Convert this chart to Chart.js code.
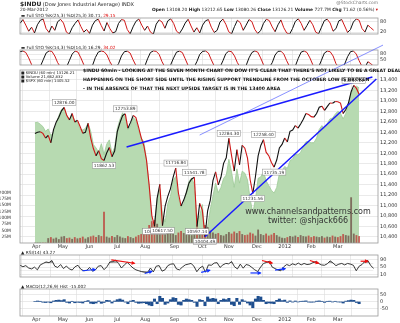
<!DOCTYPE html>
<html>
<head>
<meta charset="utf-8">
<script src="https://cdn.jsdelivr.net/npm/chart.js@4.4.1/dist/chart.umd.min.js"></script>
<style>
  body { margin: 0; width: 400px; height: 323px; background: #fff; position: relative; overflow: hidden; font-family: "DejaVu Sans", sans-serif; }
  canvas { position: absolute; left: 0; }
  .t { position: absolute; white-space: nowrap; color: #222; line-height: 1; }
  .note { position: absolute; left: 83px; font: bold 4.6px "DejaVu Sans", sans-serif; color: #111; white-space: nowrap; }
  .mark { position: absolute; font: 8px "DejaVu Sans", sans-serif; color: #333; white-space: nowrap; text-align: center; width: 140px; left: 238px; }
</style>
</head>
<body>
<canvas id="stochA" width="400" height="26" style="top:13px"></canvas>
<canvas id="stochB" width="400" height="25" style="top:45px"></canvas>
<canvas id="rsi" width="400" height="32" style="top:250px"></canvas>
<canvas id="macd" width="400" height="39" style="top:284px"></canvas>
<!-- the price panel sits above the stochastics so its fan line can run up across them -->
<canvas id="main" width="400" height="250" style="top:0px"></canvas>

<div class="t" style="left:20px;top:1px;font-size:5px"><b style="font-size:6px">$INDU</b> (Dow Jones Industrial Average) INDX</div>
<div class="t" style="left:20px;top:8px;font-size:4.4px">20-Mar-2012</div>
<div class="t" style="right:22px;top:1px;font-size:4.4px;color:#777">@StockCharts.com</div>
<div class="t" style="right:22px;top:8px;font-size:4.4px"><b>Open</b> 13108.20 <b>High</b> 13212.65 <b>Low</b> 13080.26 <b>Close</b> 13126.21 <b>Volume</b> 727.7M <b>Chg</b> 71.62 (0.56%) <span style="color:#c00">&#9662;</span></div>
<div class="t" style="left:21px;top:14px;font-size:4.3px">&#9644; Full STO %K(25,3) %D(25,3) 30.71, <span style="color:#d00">29.15</span></div>
<div class="t" style="left:21px;top:46px;font-size:4.3px">&#9644; Full STO %K(14,3) %D(14,3) 16.29, <span style="color:#d00">34.02</span></div>
<div class="t" style="left:21px;top:71px;font-size:3.8px">&#9632; $INDU (60 min) 13126.21<br>&#9632; Volume 21,662,832<br>&#9632; $SPX (60 min) 1405.52</div>
<div class="note" style="top:68px">$INDU 60min - LOOKING AT THE SEVEN MONTH CHART ON DOW IT'S CLEAR THAT THERE'S NOT LIKELY TO BE A GREAT DEAL</div>
<div class="note" style="top:77px">HAPPENING ON THE SHORT SIDE UNTIL THE RISING SUPPORT TRENDLINE FROM THE OCTOBER LOW IS BROKEN</div>
<div class="note" style="top:86px">- IN THE ABSENCE OF THAT THE NEXT UPSIDE TARGET IS IN THE 13400 AREA</div>
<div class="mark" style="top:207px">www.channelsandpatterns.com</div>
<div class="mark" style="top:216px">twitter: @shjack666</div>
<div class="t" style="left:21px;top:251px;font-size:4.3px">&#9650; RSI(14) 43.27</div>
<div class="t" style="left:21px;top:285px;font-size:4.3px">&#9650; MACD(12,26,9) Hist -15.002</div>

<script>
// one sample every two sessions, Apr 2011 .. 20 Mar 2012
const step = 2;
const months = ['Apr', 'May', 'Jun', 'Jul', 'Aug', 'Sep', 'Oct', 'Nov', 'Dec', '2012', 'Feb', 'Mar'];
const monthPos = [1, 21, 41, 62, 83, 105, 126, 146, 167, 188, 208, 228];

const price = [
  12376, 12400, 12410, 12380, 12290, 12341, 12201, 12453, 12595, 12690, 12810,
  12876.00, 12720, 12638, 12760, 12595, 12630, 12512, 12381, 12400, 12570,
  12290, 12090, 11951, 12050, 11897, 11862.53, 12004, 12110, 11934, 12043, 12414,
  12582, 12719, 12753.89, 12479, 12590, 12724, 12681, 12500, 12300, 12143,
  11866, 11383, 10809, 10604.07, 11143, 11405, 10617.50, 10990, 11176, 11320, 11540, 11716.84,
  11240, 10992, 11105, 11250, 11433, 11509, 11541.78, 10597.14, 11043, 10913,
  10404.49, 10900, 11103, 11478, 11644, 11397, 11541, 11808, 11913, 12284.30, 11955,
  11660, 12068, 11780, 12153, 12096, 11906, 11493, 11231.56, 11555, 11950,
  12150, 12258.40, 12020, 11954, 11825, 11735.19, 11870, 12103, 12169, 12291, 12217,
  12420, 12445, 12530, 12480, 12560, 12650, 12760, 12740, 12700, 12690,
  12760, 12880, 12900, 12820, 12890, 12960, 12955, 12990, 12985, 12960,
  12759, 12837, 12960, 13177, 13297.11, 13239, 13126.21
];
const spx = [
  1332, 1333, 1329, 1324, 1314, 1319, 1305, 1312, 1330, 1347, 1360,
  1363, 1347, 1340, 1348, 1337, 1333, 1318, 1317, 1320, 1331,
  1314, 1286, 1279, 1270, 1288, 1265, 1287, 1296, 1268, 1280, 1320,
  1339, 1353, 1343, 1317, 1326, 1343, 1337, 1316, 1300, 1292,
  1254, 1200, 1119, 1120, 1172, 1192, 1140, 1123, 1162, 1177, 1210, 1219,
  1174, 1154, 1162, 1188, 1209, 1216, 1202, 1129, 1136, 1160,
  1099, 1115, 1150, 1178, 1205, 1185, 1196, 1215, 1222, 1255, 1228,
  1196, 1235, 1205, 1230, 1226, 1212, 1172, 1142, 1172, 1215,
  1218, 1230, 1210, 1200, 1190, 1184, 1196, 1225, 1232, 1240, 1236,
  1252, 1256, 1266, 1264, 1270, 1282, 1292, 1292, 1290, 1290,
  1300, 1318, 1326, 1320, 1330, 1340, 1342, 1350, 1356, 1352,
  1340, 1352, 1371, 1395, 1404, 1409, 1405.52
];
// volume in millions
const volume = [
  0, 0, 0, 0, 0, 18, 22, 16, 20, 14, 24,
  26, 18, 20, 15, 22, 17, 19, 24, 16, 21,
  25, 28, 22, 30, 26, 123, 24, 20, 26, 22, 30,
  24, 20, 18, 26, 22, 18, 24, 30, 34, 38,
  45, 70, 85, 90, 75, 60, 50, 55, 40, 48, 36, 30,
  40, 46, 38, 35, 42, 30, 36, 60, 50, 44,
  70, 62, 48, 40, 35, 38, 30, 28, 34, 42, 36,
  44, 38, 46, 34, 30, 32, 40, 36, 28, 52,
  34, 30, 36, 28, 32, 38, 30, 24, 20, 18, 22,
  26, 24, 28, 22, 30, 26, 24, 28, 22, 26,
  24, 22, 26, 20, 24, 22, 28, 24, 22, 26,
  34, 30, 28, 180, 36, 30, 26
];
const stochA = [
  70, 92, 60, 25, 48, 15, 62, 88, 95, 40, 18, 55, 30, 80, 93, 72, 20, 8, 45, 70,
  90, 52, 20, 35, 12, 60, 86, 94, 58, 26, 75, 40, 15, 22, 70, 92, 88, 35, 10, 50,
  82, 95, 60, 30, 55, 20, 8, 66, 90, 78, 42, 85, 96, 70, 25, 12, 38, 72, 94, 55,
  20, 45, 15, 60, 85, 92, 48, 18, 30, 78, 95, 65, 22, 10, 52, 88, 74, 30, 60, 92,
  80, 35, 12, 28, 70, 94, 86, 50, 22, 62, 90, 45, 15, 8, 40, 82, 96, 70, 30, 58,
  88, 62, 20, 10, 48, 86, 94, 72, 25, 40, 85, 92, 55, 18, 35, 78, 95, 88, 40, 20,
  60, 45, 30.71
];
const stochB = [
  92, 96, 88, 60, 25, 10, 8, 15, 50, 85, 96, 94, 70, 35, 12, 5, 10, 45, 80, 95,
  90, 60, 25, 8, 6, 20, 62, 90, 96, 92, 75, 40, 15, 8, 30, 70, 92, 95, 85, 50,
  20, 8, 5, 15, 55, 88, 96, 94, 78, 40, 12, 6, 25, 60, 90, 95, 88, 55, 20, 8,
  10, 40, 78, 94, 96, 85, 50, 18, 6, 12, 45, 82, 95, 92, 70, 35, 10, 5, 20, 60,
  88, 96, 90, 60, 25, 8, 10, 35, 75, 94, 95, 80, 45, 15, 6, 18, 58, 90, 96, 88,
  60, 25, 8, 12, 48, 85, 95, 92, 70, 30, 10, 6, 28, 66, 92, 96, 80, 45, 15, 10,
  40, 30, 16.29
];
const rsi = [
  60, 52, 58, 45, 40, 50, 35, 62, 70, 78, 74,
  86, 55, 48, 64, 42, 56, 40, 34, 52, 60,
  38, 30, 32, 48, 28, 35, 55, 58, 36, 52, 78,
  80, 88, 70, 45, 62, 76, 60, 45, 35, 30,
  25, 22, 20, 45, 24, 55, 58, 28, 35, 58, 66, 68,
  40, 35, 50, 62, 66, 70, 55, 25, 45, 55,
  22, 62, 60, 72, 74, 48, 62, 70, 68, 80, 52,
  40, 66, 44, 64, 60, 48, 35, 26, 50, 70,
  75, 82, 50, 42, 34, 30, 52, 64, 58, 68, 62,
  72, 62, 70, 64, 66, 74, 80, 70, 62, 60,
  68, 84, 72, 58, 66, 70, 62, 70, 66, 60,
  30, 55, 64, 82, 86, 58, 43.27
];
const macdHist = [
  0, 5, 3, -4, -6, -3, -8, 5, 10, 12, 8,
  15, -5, -10, 3, -8, -4, -6, -10, 3, 8,
  -12, -15, -10, 5, -12, -6, 10, 8, -10, 5, 15,
  20, 12, -3, -15, 5, 10, -5, -12, -10, -8,
  -15, -25, -30, 20, -15, 40, 25, -20, -10, 15, 30, 25,
  -20, -25, 10, 20, 15, 10, -5, -35, 15, 10,
  -30, 35, 20, 25, 20, -15, 10, 20, 15, 25, -20,
  -30, 25, -20, 15, 5, -10, -25, -45, 20, 40,
  35, 10, -15, -10, -12, -15, 10, 20, 8, 12, -5,
  6, -3, 5, -2, 3, 4, 6, -3, -4, -3,
  4, 6, 3, -5, 3, 4, -2, 3, -2, -3,
  -10, 4, 8, 12, 10, -6, -15.002
];

// samples that carry a value tag
const peakAt = [11, 34, 53, 60, 73, 86, 120];
const troughAt = [26, 45, 48, 61, 64, 82, 90];

// trend lines: [session, price]
const channelTop = [[69, 12119], [254, 13456]];
const channelBottom = [[128, 10404.49], [257, 13418]];
const fanLine = [[124, 12348], [262, 14067]];

// RSI divergence arrows: [session0, rsi0, session1, rsi1]
const rsiRed = [[63, 89, 79, 71], [167, 86, 174, 72], [200, 86, 206, 71], [235, 82, 240, 82]];
const rsiBlue = [[43, 30, 52, 37], [86, 15, 91, 27], [125, 21, 131, 33], [159, 18, 166, 18], [176, 33, 183, 42]];

const priceTicks = [10400, 10600, 10800, 11000, 11200, 11400, 11600, 11800, 12000, 12200, 12400, 12600, 12800, 13000, 13200, 13400];
const volTicks = [25, 50, 75, 100, 125, 150, 175, 200];

const pts = (arr) => arr.map((v, i) => ({ x: i * step, y: v }));
const upDown = (ctx) => (ctx.p1.parsed.y < ctx.p0.parsed.y ? '#d01818' : '#111');
const GRID = '#dcdcdc';
const tickFont = { size: 5, family: 'DejaVu Sans' };

const frame = {
  id: 'frame',
  afterDraw(chart) {
    const { ctx, chartArea: a } = chart;
    ctx.save();
    ctx.strokeStyle = '#999';
    ctx.lineWidth = 0.8;
    ctx.strokeRect(a.left, a.top, a.right - a.left, a.bottom - a.top);
    ctx.restore();
  },
};

function xScale(showLabels) {
  return {
    type: 'linear',
    min: 0,
    max: 247,
    afterBuildTicks: (s) => { s.ticks = monthPos.map((v) => ({ value: v })); },
    ticks: {
      display: showLabels,
      autoSkip: false,
      maxRotation: 0,
      padding: 1,
      font: tickFont,
      color: '#333',
      callback: (v) => months[monthPos.indexOf(v)],
    },
    grid: { color: GRID, lineWidth: 0.6, drawTicks: false },
    border: { display: false },
    afterFit: (s) => { s.height = showLabels ? 7 : 0; },
  };
}

function rightScale(min, max, ticks) {
  return {
    position: 'right',
    min,
    max,
    afterBuildTicks: (s) => { s.ticks = ticks.map((v) => ({ value: v })); },
    ticks: { font: tickFont, color: '#333', padding: 2 },
    grid: { color: GRID, lineWidth: 0.6, drawTicks: false },
    border: { display: false },
    afterFit: (s) => { s.width = 22; },
  };
}

function baseOptions(scales, plugins = {}) {
  return {
    responsive: false,
    animation: false,
    events: [],
    layout: { padding: { left: 20, right: 0, top: 0, bottom: 0 } },
    plugins: { legend: { display: false }, tooltip: { enabled: false }, ...plugins },
    scales,
  };
}

// stochastics
function stochChart(id, values, min, ticks) {
  return new Chart(document.getElementById(id), {
    type: 'line',
    data: {
      datasets: [{
        data: pts(values),
        borderWidth: 1,
        pointRadius: 0,
        segment: { borderColor: upDown },
      }],
    },
    options: baseOptions({ x: xScale(false), y: rightScale(min, 101, ticks) }),
    plugins: [frame],
  });
}
stochChart('stochA', stochA, 9, [20, 50, 80]);
stochChart('stochB', stochB, 23, [50, 80]);

// price tags on swing highs and lows
const priceTags = {
  id: 'priceTags',
  afterDatasetsDraw(chart) {
    const { ctx, scales: { x, y } } = chart;
    ctx.save();
    ctx.font = '4.3px DejaVu Sans';
    ctx.textAlign = 'center';
    ctx.textBaseline = 'middle';
    const tag = (k, above) => {
      const px = x.getPixelForValue(k * step);
      const py = y.getPixelForValue(price[k]);
      const txt = price[k].toFixed(2);
      const w = ctx.measureText(txt).width + 3;
      const cy = above ? py - 5 : py + 5;
      ctx.fillStyle = '#fff';
      ctx.strokeStyle = '#888';
      ctx.lineWidth = 0.5;
      ctx.fillRect(px - w / 2, cy - 3, w, 6);
      ctx.strokeRect(px - w / 2, cy - 3, w, 6);
      ctx.fillStyle = '#333';
      ctx.fillText(txt, px, cy + 0.3);
    };
    peakAt.forEach((k) => tag(k, true));
    troughAt.forEach((k) => tag(k, false));
    ctx.restore();
  },
};

const lineSet = (pair, width, color) => ({
  type: 'line',
  data: pair.map(([x, y]) => ({ x, y })),
  yAxisID: 'y',
  borderColor: color,
  borderWidth: width,
  pointRadius: 0,
  clip: false,
  order: 1,
});

new Chart(document.getElementById('main'), {
  type: 'line',
  data: {
    datasets: [
      {
        data: pts(spx),
        yAxisID: 'ySpx',
        fill: 'start',
        backgroundColor: '#b7dab1',
        borderColor: '#9dca97',
        borderWidth: 0.8,
        pointRadius: 0,
        order: 5,
      },
      {
        type: 'bar',
        data: pts(volume),
        yAxisID: 'yVol',
        backgroundColor: (c) => (c.dataIndex > 0 && price[c.dataIndex] < price[c.dataIndex - 1] ? 'rgba(190,40,40,0.7)' : 'rgba(90,40,40,0.6)'),
        barThickness: 1.2,
        order: 4,
      },
      {
        data: pts(price),
        yAxisID: 'y',
        borderWidth: 1.1,
        pointRadius: 0,
        segment: { borderColor: upDown },
        order: 2,
      },
      lineSet(channelTop, 1.5, '#1a1aff'),
      lineSet(channelBottom, 1.5, '#1a1aff'),
      lineSet(fanLine, 0.7, '#5560ff'),
    ],
  },
  options: {
    ...baseOptions({
      x: xScale(true),
      y: rightScale(10285, 13591, priceTicks),
      yVol: {
        position: 'left',
        min: 0,
        max: 686,
        afterBuildTicks: (s) => { s.ticks = volTicks.map((v) => ({ value: v })); },
        ticks: { font: { size: 4.5, family: 'DejaVu Sans' }, color: '#333', padding: 1, callback: (v) => v + 'M' },
        grid: { display: false },
        border: { display: false },
        afterFit: (s) => { s.width = 20; },
      },
      ySpx: { display: false, min: 1079, max: 1443 },
    }),
    layout: { padding: { top: 70, left: 0, right: 0, bottom: 0 } },
  },
  plugins: [frame, priceTags],
});

// RSI with divergence arrows
const arrows = {
  id: 'arrows',
  afterDatasetsDraw(chart) {
    const { ctx, scales: { x, y } } = chart;
    const draw = (list, color) => {
      for (const [i0, v0, i1, v1] of list) {
        const x0 = x.getPixelForValue(i0), y0 = y.getPixelForValue(v0);
        const x1 = x.getPixelForValue(i1), y1 = y.getPixelForValue(v1);
        const a = Math.atan2(y1 - y0, x1 - x0);
        ctx.save();
        ctx.strokeStyle = color;
        ctx.fillStyle = color;
        ctx.lineWidth = 1.2;
        ctx.beginPath();
        ctx.moveTo(x0, y0);
        ctx.lineTo(x1, y1);
        ctx.stroke();
        ctx.beginPath();
        ctx.moveTo(x1 + Math.cos(a), y1 + Math.sin(a));
        ctx.lineTo(x1 - 3.5 * Math.cos(a - 0.6), y1 - 3.5 * Math.sin(a - 0.6));
        ctx.lineTo(x1 - 3.5 * Math.cos(a + 0.6), y1 - 3.5 * Math.sin(a + 0.6));
        ctx.closePath();
        ctx.fill();
        ctx.restore();
      }
    };
    draw(rsiRed, '#ee1111');
    draw(rsiBlue, '#1133ff');
  },
};

new Chart(document.getElementById('rsi'), {
  type: 'line',
  data: {
    datasets: [
      {
        data: pts(rsi),
        borderColor: '#222',
        borderWidth: 0.9,
        pointRadius: 0,
        fill: { target: { value: 70 }, above: 'rgba(110,110,110,0.6)', below: 'rgba(0,0,0,0)' },
      },
      {
        data: pts(rsi),
        borderWidth: 0,
        pointRadius: 0,
        fill: { target: { value: 30 }, above: 'rgba(0,0,0,0)', below: 'rgba(110,110,110,0.6)' },
      },
    ],
  },
  options: baseOptions({ x: xScale(false), y: rightScale(-4, 116, [10, 30, 50, 70, 90]) }),
  plugins: [frame, arrows],
});

new Chart(document.getElementById('macd'), {
  type: 'bar',
  data: {
    datasets: [{
      data: pts(macdHist),
      backgroundColor: '#1f4f8f',
      barThickness: 2.4,
    }],
  },
  options: baseOptions({ x: xScale(true), y: rightScale(-106, 94, [-50, 0, 50]) }),
  plugins: [frame],
});
</script>
</body>
</html>
